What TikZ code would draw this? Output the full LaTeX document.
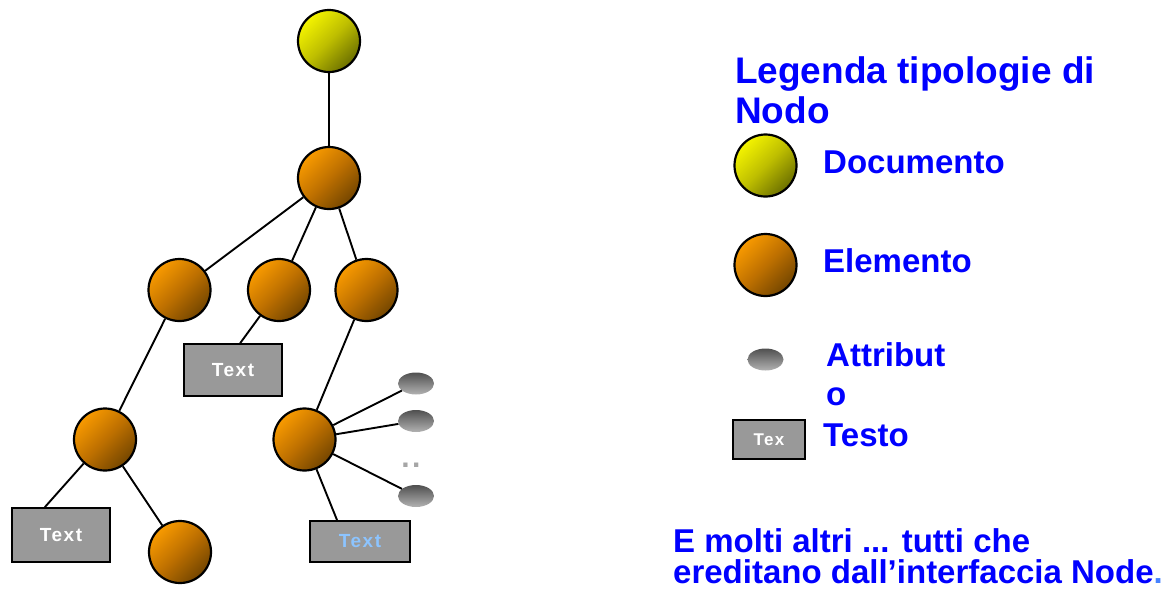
\documentclass[tikz,border=0pt]{standalone}
\usepackage{fontspec}
\setmainfont{Liberation Sans}
\newfontfamily\boxfont[LetterSpace=8]{Liberation Sans}
\usetikzlibrary{shapes.geometric}

\definecolor{legblue}{RGB}{0,0,255}
\definecolor{dotblue}{RGB}{70,130,255}
\definecolor{docbright}{RGB}{244,244,0}
\definecolor{docmid}{RGB}{190,190,0}
\definecolor{docdark}{RGB}{108,112,0}
\definecolor{elbright}{RGB}{248,154,0}
\definecolor{elmid}{RGB}{190,112,0}
\definecolor{eldark}{RGB}{116,70,0}
\definecolor{attrtop}{RGB}{80,80,80}
\definecolor{attrbot}{RGB}{178,178,178}
\definecolor{txtgray}{RGB}{153,153,153}
\definecolor{txtlight}{RGB}{140,196,255}

\tikzstyle{line} = [draw, line width=1.9pt]
\tikzstyle{documento} = [circle, draw, line width=2.2pt, minimum size=62pt, inner sep=0pt, top color=docbright, bottom color=docdark, middle color=docmid, shading angle=45]
\tikzstyle{elemento} = [circle, draw, line width=2.2pt, minimum size=62pt, inner sep=0pt, top color=elbright, bottom color=eldark, middle color=elmid, shading angle=45]
\tikzstyle{attributo} = [ellipse, minimum width=36pt, minimum height=22pt, inner sep=0pt, top color=attrtop, bottom color=attrbot]
\tikzstyle{testo} = [rectangle, draw, line width=1.8pt, fill=txtgray, inner sep=0pt, text=white, font=\boxfont\bfseries\fontsize{19}{19}\selectfont]
\tikzstyle{legenda} = [anchor=base west, inner sep=0pt, text=legblue, align=left, font=\bfseries\fontsize{33}{38}\selectfont]

\begin{document}
\begin{tikzpicture}[x=1pt, y=-1pt]
	\useasboundingbox (0,0) rectangle (1173,595);

	% tree
	\node[documento] (doc) at (329,41) {};
	\node[elemento] (el) at (329,178) {};
	\node[elemento] (elA) at (179.5,290) {};
	\node[elemento] (elB) at (279,290) {};
	\node[elemento] (elC) at (366.5,290) {};
	\node[elemento] (elD) at (105,439.5) {};
	\node[elemento] (elF) at (304.5,439.5) {};
	\node[elemento] (elG) at (180,552) {};

	\node[testo, minimum width=98pt, minimum height=52pt] (txt1) at (233,370) {Text};
	\node[testo, minimum width=98pt, minimum height=54pt] (txt2) at (61,535) {Text};
	\node[testo, minimum width=100pt, minimum height=41pt, text=txtlight] (txt3) at (360,541.5) {Text};

	\node[attributo] (att1) at (416,383.5) {};
	\node[attributo] (att2) at (416,421) {};
	\node[attributo] (att3) at (416,496) {};
	\node[anchor=base, inner sep=0pt, text=black!35, font=\boxfont\bfseries\fontsize{30}{30}\selectfont] (dots) at (411,467) {..};

	\draw[line] (doc) -- (el);
	\draw[line] (el) -- (elA); \draw[line] (el) -- (elB); \draw[line] (el) -- (elC);
	\draw[line] (elA) -- (elD);
	\draw[line] (elB) -- (txt1.75);
	\draw[line] (elC) -- (elF);
	\draw[line] (elD) -- (txt2.120); \draw[line] (elD) -- (elG);
	\draw[line] (elF) -- (att1); \draw[line] (elF) -- (att2); \draw[line] (elF) -- (att3);
	\draw[line] (elF) -- (txt3.137);

	% legend (base of a two-line node sits on its last line)
	\node[legenda, font=\bfseries\fontsize{37}{40}\selectfont] (titolo) at (735,123.5) {Legenda tipologie di\\Nodo};
	\node[documento] (legDoc) at (765.5,165.5) {};
	\node[legenda] (lblDoc) at (823,173) {Documento};
	\node[elemento] (legEl) at (765.5,265) {};
	\node[legenda] (lblEl) at (823,272) {Elemento};
	\node[attributo] (legAtt) at (765.5,359.5) {};
	\node[legenda, font=\bfseries\fontsize{33}{39}\selectfont] (lblAtt) at (826,405) {Attribut\\o};
	\node[testo, minimum width=72pt, minimum height=39pt, font=\boxfont\bfseries\fontsize{17}{17}\selectfont] (legTxt) at (769,439.5) {Tex};
	\node[legenda] (lblTxt) at (823,446) {Testo};

	\node[legenda, font=\bfseries\fontsize{33}{31}\selectfont] (nota) at (673,583) {E molti altri ... tutti che\\ereditano dall’interfaccia Node\textcolor{dotblue}{.}};

\end{tikzpicture}
\end{document}
